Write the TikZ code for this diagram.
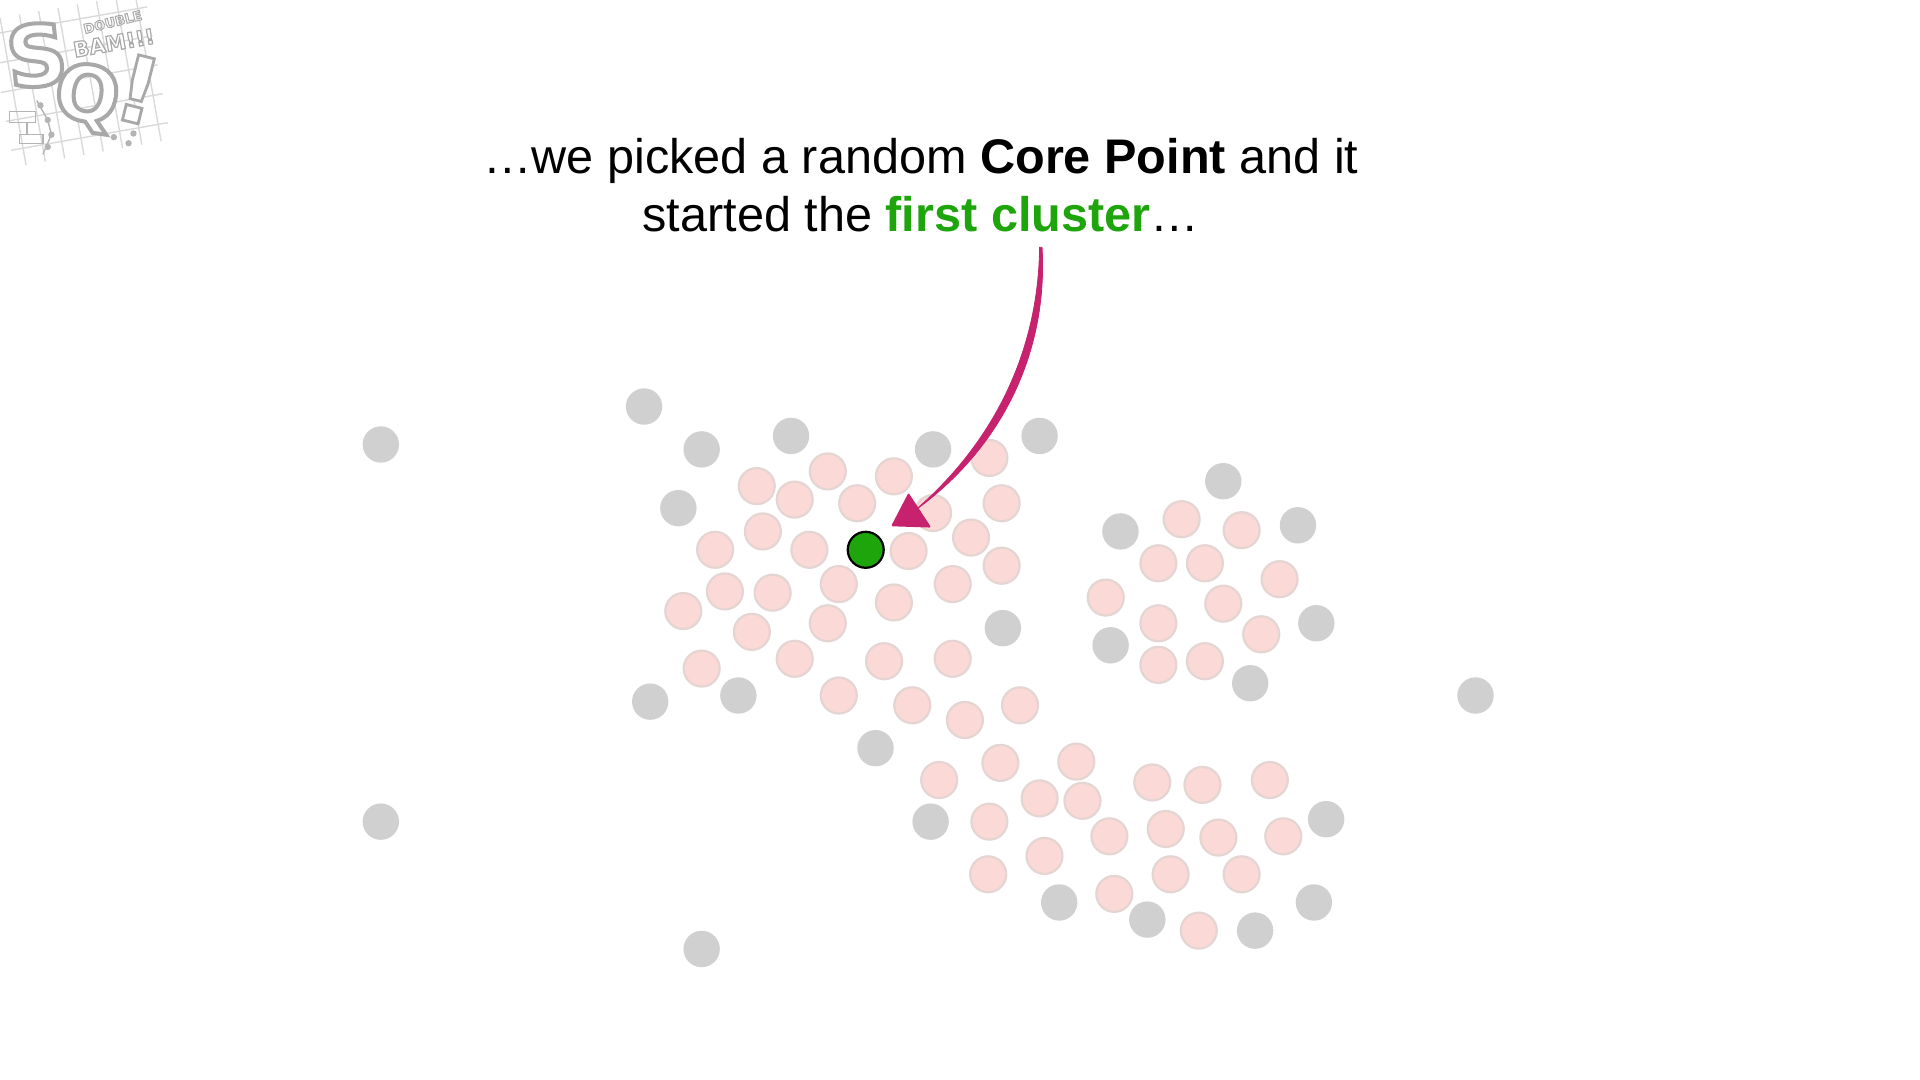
\documentclass[tikz,border=0pt]{standalone}
\usepackage{fontspec}
\setmainfont{Liberation Sans}
\newfontfamily\logofont{DejaVu Sans}[BoldFont={DejaVu Sans Bold}]
\usetikzlibrary{positioning}
\definecolor{dotgrey}{HTML}{D0D0D0}
\definecolor{dotpink}{HTML}{FBD9D6}
\definecolor{dotedge}{HTML}{E4D5D3}
\definecolor{coregreen}{HTML}{1FA50C}
\definecolor{arrowpink}{HTML}{C6226E}
\definecolor{logogrey}{HTML}{B4B4B4}
\newcommand{\logotext}[2]{\special{pdf:code 2 Tr #1 w 0.66 0.66 0.66 RG 1 1 1 rg}#2\special{pdf:code 0 Tr}}
\tikzset{
	noise/.style={circle, fill=dotgrey, inner sep=0pt, minimum size=18.2pt},
	member/.style={circle, fill=dotpink, draw=dotedge, line width=1.1pt, inner sep=0pt, minimum size=18pt},
	corepoint/.style={circle, fill=coregreen, draw=black, line width=1.1pt, inner sep=0pt, minimum size=18pt},
	caption/.style={align=center, font=\fontsize{24.3}{29}\selectfont},
	logoletter/.style={inner sep=0pt, font=\logofont\bfseries\fontsize{#1}{#1}\selectfont},
	logoline/.style={draw=logogrey!50, line width=0.7pt}
}
\begin{document}
\begin{tikzpicture}[x=0.61224pt, y=-0.61224pt]
		\useasboundingbox (0,0) rectangle (1568,882);
		% logo
		\begin{scope}[rotate around={10:(66,66)}]
			\foreach \gx in {10,26,42,58,74,90,106,122} {
				\draw[logoline] (\gx,4) -- (\gx,126);
			}
			\foreach \gy in {16,40,64,88,112} {
				\draw[logoline] (0,\gy) -- (130,\gy);
			}
		\end{scope}
		\node (logos) [logoletter=42, rotate=6] at (30,45) {\logotext{2}{S}};
		\node (logoq) [logoletter=38, rotate=-8] at (71,80) {\logotext{2}{Q}};
		\node (logobang) [logoletter=46, rotate=-14] at (113,73) {\logotext{1.4}{!}};
		\node (logodouble) [logoletter=6.5, rotate=14] at (92,18) {\logotext{0.5}{DOUBLE}};
		\node (logobam) [logoletter=10.5, rotate=10] at (93,35) {\logotext{0.6}{BAM!!!}};
		\draw[logoline, draw=logogrey] (8,91) rectangle (29,100);
		\draw[logoline, draw=logogrey] (16,110) rectangle (35,117);
		\draw[logoline, draw=logogrey] (22,100) -- (22,110);
		\draw[logoline, draw=logogrey] (30,82) -- (39,98) -- (42,110) -- (35,126);
		\foreach \bx/\by in {33/86,39/98,42/110,39/120,93/112,109/109,105/117} {
			\fill[logogrey] (\bx,\by) circle (1.6pt);
		}
		% unclustered points
		\foreach \px/\py [count=\i] in {526/332,311/363,573/367,646/356,762/367,849/356,554/415,999/393,915/434,1060/429,1075/509,907/527,1021/558,819/513,531/573,603/568,1205/568,715/611,311/671,760/671,1083/669,1073/737,865/737,937/751,1025/760,573/775} {
			\node (noise\i) [noise] at (\px,\py) {};
		}
		% points close to others
		\foreach \px/\py [count=\i] in {676/385,730/389,808/374,618/397,649/408,700/411,818/411,762/419,623/434,584/449,661/449,742/450,793/439,818/462,685/477,778/477,592/483,631/484,558/499,730/492,614/516,676/509,649/538,722/540,778/538,573/546,685/568,745/576,788/588,833/576,879/622,817/623,767/637,849/652,884/654,808/671,941/639,982/641,1037/637,906/683,952/677,995/684,1048/683,853/699,807/714,956/714,1014/714,910/730,979/760,965/424,1014/433,946/460,984/460,1045/473,903/488,999/493,946/509,1030/518,946/543,984/540} {
			\node (member\i) [member] at (\px,\py) {};
		}
		\node (core) [corepoint] at (707,449) {};
		\node (caption) [caption] at (752,151.5) {…we picked a random \textbf{Core Point} and it\\started the \textcolor{coregreen}{\textbf{first cluster}}…};
		% arrow
		\coordinate (arrowstartl) at (849,202);
		\coordinate (arrowstartr) at (851,202);
		\coordinate (arrowend) at (747,417);
		\coordinate (headleft) at (729,429);
		\coordinate (headtop) at (742,404);
		\coordinate (headright) at (759,430);
		\draw[draw=arrowpink, fill=arrowpink, line width=0.4pt] (arrowstartl) .. controls (848,288) and (811,362) .. (arrowend) .. controls (818,366) and (856,288) .. (arrowstartr) -- cycle;
		\draw[draw=arrowpink, fill=arrowpink, line width=1pt, line join=round] (headtop) -- (headleft) -- (headright) -- cycle;
	\end{tikzpicture}
\end{document}
